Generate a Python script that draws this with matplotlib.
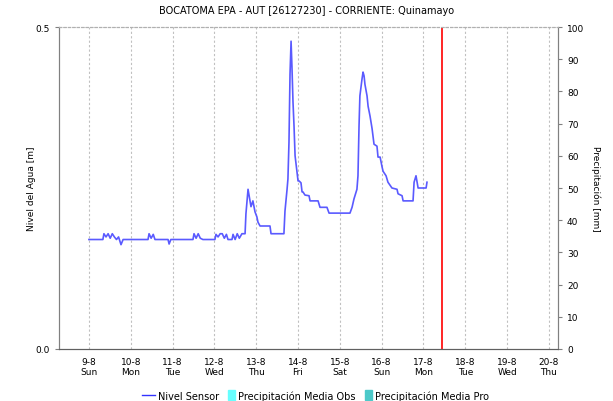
import numpy as np
import matplotlib
matplotlib.use("Agg")
import matplotlib.pyplot as plt
from matplotlib.lines import Line2D
from matplotlib.patches import Patch, Rectangle
from matplotlib.legend_handler import HandlerPatch

# hours counted from 9-8 00:00
hours = [0, 8, 8.6, 9.8, 11, 12.2, 13.4, 14.6, 15.8, 17, 18.4, 19.6,
         33.9, 34.5, 35.7, 36.9, 37.9, 45.4, 46, 47,
         59.7, 60.3, 61.5, 62.7, 63.9, 65.4,
         72.3, 72.9, 74.1, 75.3, 76.5, 77.7, 78.9, 79.8,
         82.1, 82.7, 83.9, 85.1, 86.3, 87.8, 88.4, 89.6,
         90.1, 91.3, 93.0, 94.1, 95.3, 96.4, 97.0, 98.2, 103.9, 104.5, 111.9,
         112.5, 113.7, 114.2, 114.8, 115.4, 116.0, 116.5, 117.1, 117.7, 118.3,
         119.4, 120.0, 120.6, 121.7, 122.3, 122.8, 124.0, 126.3, 126.9, 131.5,
         132.6, 136.6, 137.8, 149.8,
         151.0, 152.1, 153.8, 154.4, 155.0, 155.5, 156.7, 157.3, 157.9, 158.4,
         159.6, 160.2, 161.3, 162.5, 163.6, 165.3, 165.9, 167.1, 168.2, 168.8,
         170.5, 171.6, 173.9, 176.8, 177.4, 179.7, 180.3, 186.0,
         186.6, 187.7, 188.9, 193.5, 194.0]
nivel = [0.170, 0.170, 0.179, 0.174, 0.179, 0.172, 0.179, 0.174, 0.170, 0.174, 0.162, 0.170,
         0.170, 0.179, 0.172, 0.178, 0.170, 0.170, 0.163, 0.170,
         0.170, 0.179, 0.172, 0.179, 0.172, 0.170,
         0.170, 0.178, 0.174, 0.179, 0.179, 0.172, 0.178, 0.170,
         0.170, 0.178, 0.170, 0.179, 0.172, 0.179, 0.179, 0.179,
         0.210, 0.248, 0.221, 0.230, 0.213, 0.205, 0.197, 0.191, 0.191, 0.179, 0.179,
         0.214, 0.248, 0.264, 0.321, 0.427, 0.478, 0.439, 0.384, 0.346, 0.300,
         0.275, 0.261, 0.261, 0.258, 0.244, 0.244, 0.239, 0.238, 0.230, 0.230,
         0.220, 0.220, 0.211, 0.211,
         0.220, 0.233, 0.248, 0.269, 0.346, 0.393, 0.419, 0.430, 0.424, 0.411,
         0.393, 0.377, 0.362, 0.342, 0.318, 0.315, 0.298, 0.298, 0.283, 0.276,
         0.269, 0.259, 0.250, 0.248, 0.241, 0.238, 0.230, 0.230,
         0.259, 0.269, 0.250, 0.250, 0.259]

precip_obs = []
precip_pro = []

day_labels = ["9-8\nSun", "10-8\nMon", "11-8\nTue", "12-8\nWed", "13-8\nThu", "14-8\nFri",
              "15-8\nSat", "16-8\nSun", "17-8\nMon", "18-8\nTue", "19-8\nWed", "20-8\nThu"]
now_hour = 202.6

fig = plt.figure(figsize=(6.13, 4.02), dpi=100)
ax = fig.add_axes([0.0962, 0.1294, 0.8141, 0.8009])
ax2 = ax.twinx()

ax.plot(hours, nivel, color="#5a5aff", lw=1.2)
ax.axvline(now_hour, color="red", lw=1.2)

ax.set_xlim(-17.2, 269.2)
ax.set_ylim(0, 0.5)
ax.set_yticks([0, 0.5])
ax.set_yticklabels(["0.0", "0.5"])
ax.set_xticks(np.arange(len(day_labels)) * 24)
ax.set_xticklabels(day_labels, linespacing=1.1)
ax.tick_params(axis="x", length=0, labelsize=6.5, pad=6)
ax.tick_params(axis="y", length=3, labelsize=6.5, color="#808080")
ax.grid(axis="x", color="#c0c0c0", ls=(0, (2, 2)), lw=0.8)

ax2.set_ylim(0, 100)
ax2.set_yticks(np.arange(0, 101, 10))
ax2.tick_params(axis="y", length=3, labelsize=6.5, color="#808080")

for a in (ax, ax2):
    a.spines["left"].set_color("#808080")
    a.spines["right"].set_color("#808080")
    a.spines["top"].set_color("#b0b0b0")
    a.spines["top"].set_linestyle((0, (2, 2)))
    a.spines["bottom"].set_color("#606060")
    a.spines["bottom"].set_linestyle((0, (1, 1)))

ax.set_ylabel("Nivel del Agua [m]", fontsize=6.5, labelpad=0)
ax2.set_ylabel("Precipitación [mm]", fontsize=6.5, rotation=270, labelpad=12)
fig.suptitle("BOCATOMA EPA - AUT [26127230] - CORRIENTE: Quinamayo", fontsize=7, x=0.5, y=0.985)


def narrow_box(legend, orig_handle, xdescent, ydescent, width, height, fontsize):
    return Rectangle((xdescent + width - 5, -ydescent - 1), 5, height + 2)


handles = [Line2D([], [], color="#3333ff", lw=1.0),
           Patch(color="#66ffff"),
           Patch(color="#4cc9c9")]
fig.legend(handles, ["Nivel Sensor", "Precipitación Media Obs", "Precipitación Media Pro"],
           loc="center", bbox_to_anchor=(0.515, 0.014), ncol=3, frameon=False, fontsize=7,
           handlelength=1.3, handletextpad=0.3, columnspacing=0.4,
           handler_map={Patch: HandlerPatch(patch_func=narrow_box)})

fig.savefig("out.png", dpi=100)
